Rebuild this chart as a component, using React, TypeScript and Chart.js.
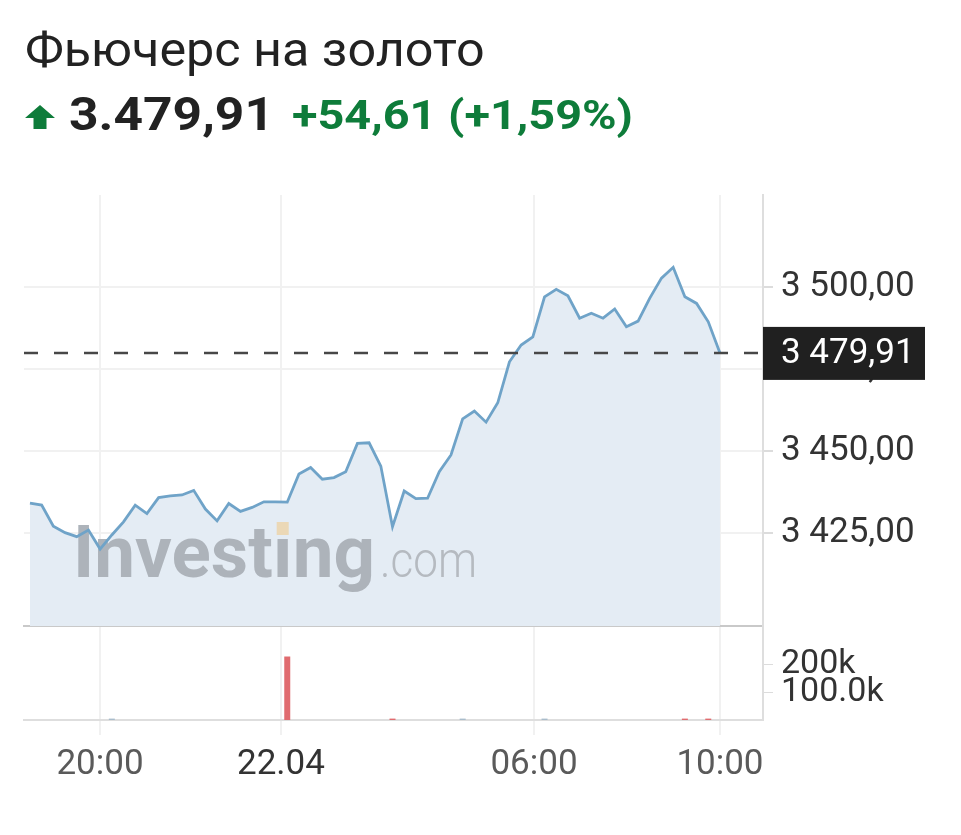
import React, { useEffect, useRef } from "react";
import { Chart, registerables } from "chart.js";

Chart.register(...registerables);

// ---------- data ----------
const title = "Фьючерс на золото";
const priceText = "3.479,91";
const changeText = "+54,61 (+1,59%)";

const priceValues = [
  3434.1, 3433.5, 3427.1, 3425.1, 3423.9, 3425.9, 3420.1, 3424.4, 3428.4, 3433.5,
  3430.9, 3435.8, 3436.3, 3436.6, 3438.0, 3432.3, 3428.7, 3434.0, 3431.6, 3432.8,
  3434.5, 3434.5, 3434.4, 3443.0, 3445.0, 3441.4, 3441.9, 3443.7, 3452.3, 3452.5,
  3445.4, 3426.9, 3437.8, 3435.5, 3435.6, 3443.7, 3448.8, 3459.8, 3462.2, 3458.8,
  3464.7, 3477.2, 3482.3, 3484.8, 3497.0, 3499.3, 3497.3, 3490.5, 3492.0, 3490.5,
  3493.3, 3487.9, 3489.6, 3496.6, 3502.7, 3506.0, 3497.0, 3495.0, 3489.4, 3479.91,
];

const volumeValues = [
  0, 0, 0, 0, 0, 0, 0, 5000, 0, 0,
  0, 0, 0, 0, 0, 0, 0, 0, 0, 0,
  0, 0, 228000, 0, 0, 0, 0, 0, 0, 0,
  0, 5000, 0, 0, 0, 0, 0, 5000, 0, 0,
  0, 0, 0, 0, 5000, 0, 0, 0, 0, 0,
  0, 0, 0, 0, 0, 0, 5000, 0, 5000, 0,
];

const lastPrice = 3479.91;

const xTickPositions = [5.99, 21.46, 43.1, 59];
const xTickLabels = ["20:00", "22.04", "06:00", "10:00"];
const priceTicks = [3425, 3450, 3475, 3500];
const volumeTicks = [100000, 200000];
const volumeTickLabels = ["100.0k", "200k"];

// axis ranges
const X_MIN = -0.51;
const X_MAX = 62.68;
const PRICE_MIN = 3396.65;
const PRICE_MAX = 3528.05;
const VOL_MAX = 334000;

// ---------- helpers ----------
function formatPrice(v: number): string {
  const [i, d] = v.toFixed(2).split(".");
  return i.replace(/\B(?=(\d{3})+(?!\d))/g, " ") + "," + d;
}

const FONT = "Roboto";
const GRID = "#f1f1f1";
const AXIS = "#dedede";

const watermarkPlugin = {
  id: "watermark",
  afterDatasetDraw(chart: any, args: any) {
    if (args.index !== 1) return;
    const ctx = chart.ctx;
    ctx.save();
    ctx.font = `bold 73px ${FONT}`;
    ctx.textBaseline = "alphabetic";
    const p1 = "Invest";
    const p2 = "\u0131";
    const p3 = "ng";
    const full = p1 + p2 + p3;
    const w = ctx.measureText(full).width;
    const sx = 302 / w;
    ctx.translate(73, 577);
    ctx.scale(sx, 1);
    ctx.fillStyle = "#adb3ba";
    ctx.fillText(full, 0, 0);
    const w1 = ctx.measureText(p1).width;
    const w2 = ctx.measureText(p2).width;
    ctx.fillStyle = "rgba(240, 204, 140, 0.6)";
    const cx = w1 + w2 / 2;
    ctx.fillRect(cx - 6 / sx, -55, 12 / sx, 13);
    ctx.restore();

    ctx.save();
    ctx.font = `300 50px ${FONT}`;
    const wc = ctx.measureText(".com").width;
    ctx.translate(380, 577);
    ctx.scale(97 / wc, 1);
    ctx.fillStyle = "#b5bac0";
    ctx.fillText(".com", 0, 0);
    ctx.restore();
  },
};

const lastPricePlugin = {
  id: "lastPrice",
  afterDatasetsDraw(chart: any) {
    const ctx = chart.ctx;
    const y = chart.scales.y.getPixelForValue(lastPrice);
    const { left, right } = chart.chartArea;
    ctx.save();
    ctx.strokeStyle = "#474747";
    ctx.lineWidth = 2.5;
    ctx.setLineDash([14, 16]);
    ctx.beginPath();
    ctx.moveTo(left, y);
    ctx.lineTo(right, y);
    ctx.stroke();
    ctx.restore();
  },
  afterDraw(chart: any) {
    const ctx = chart.ctx;
    const y = chart.scales.y.getPixelForValue(lastPrice);
    const right = chart.chartArea.right;
    ctx.save();
    ctx.fillStyle = "#202020";
    ctx.fillRect(right, y - 26, 162, 53);
    ctx.fillStyle = "#ffffff";
    ctx.font = `35px ${FONT}`;
    ctx.textBaseline = "middle";
    ctx.textAlign = "left";
    ctx.fillText(formatPrice(lastPrice), right + 18, y + 1.5);
    ctx.restore();
  },
};

const clipLabelPlugin = {
  id: "clipLabel",
  afterDraw(chart: any) {
    const ctx = chart.ctx;
    const right = chart.chartArea.right;
    ctx.clearRect(right + 1, chart.chartArea.bottom + 20, 200, 80);
  },
};

export default function App() {
  const priceRef = useRef<HTMLCanvasElement | null>(null);
  const volRef = useRef<HTMLCanvasElement | null>(null);

  useEffect(() => {
    const pts = priceValues.map((v, i) => ({ x: i, y: v }));
    const priceChart = new Chart(priceRef.current as HTMLCanvasElement, {
      type: "line",
      data: {
        datasets: [
          {
            data: pts,
            borderColor: "#6fa3c8",
            borderWidth: 2.8,
            pointRadius: 0,
            fill: false,
            tension: 0,
          },
          {
            data: pts,
            borderWidth: 0,
            borderColor: "rgba(0,0,0,0)",
            backgroundColor: "#e4ecf4",
            pointRadius: 0,
            fill: "start",
            tension: 0,
          },
        ],
      },
      options: {
        animation: false,
        responsive: false,
        maintainAspectRatio: false,
        events: [],
        layout: { padding: { top: 195, left: 24, right: 0, bottom: 0 } },
        plugins: { legend: { display: false }, tooltip: { enabled: false } },
        scales: {
          x: {
            type: "linear",
            min: X_MIN,
            max: X_MAX,
            afterBuildTicks: (a: any) => {
              a.ticks = xTickPositions.map((v) => ({ value: v }));
            },
            afterFit: (a: any) => {
              a.height = 34;
            },
            ticks: { display: false },
            grid: { color: GRID, lineWidth: 2, drawTicks: false },
            border: { display: true, color: "#c9c9c9", width: 2 },
          },
          y: {
            position: "right",
            min: PRICE_MIN,
            max: PRICE_MAX,
            afterBuildTicks: (a: any) => {
              a.ticks = priceTicks.map((v) => ({ value: v }));
            },
            afterFit: (a: any) => {
              a.width = 198;
            },
            ticks: {
              autoSkip: false,
              callback: (v: any) => formatPrice(Number(v)),
              font: { family: FONT, size: 35 },
              color: "#333333",
              padding: 8,
            },
            grid: { color: GRID, lineWidth: 2, tickLength: 10, tickColor: "#dcdcdc" },
            border: { color: AXIS, width: 2 },
          },
        },
      } as any,
      plugins: [watermarkPlugin, lastPricePlugin],
    });

    const volColors = volumeValues.map((_, i) =>
      i > 0 && priceValues[i] < priceValues[i - 1] ? "#e06b6f" : "#a9bccb"
    );
    const volChart = new Chart(volRef.current as HTMLCanvasElement, {
      type: "bar",
      data: {
        datasets: [
          {
            data: volumeValues.map((v, i) => ({ x: i, y: v > 0 ? v : null })),
            backgroundColor: volColors,
            barThickness: 6,
            borderWidth: 0,
            inflateAmount: 0,
          },
        ],
      },
      options: {
        animation: false,
        responsive: false,
        maintainAspectRatio: false,
        events: [],
        layout: { padding: { top: 627, left: 24, right: 0, bottom: 0 } },
        plugins: { legend: { display: false }, tooltip: { enabled: false } },
        scales: {
          x: {
            type: "linear",
            min: X_MIN,
            max: X_MAX,
            offset: false,
            afterBuildTicks: (a: any) => {
              a.ticks = xTickPositions.map((v) => ({ value: v }));
            },
            afterFit: (a: any) => {
              a.height = 115;
            },
            ticks: {
              autoSkip: false,
              maxRotation: 0,
              font: { family: FONT, size: 35 },
              color: (c: any) => (c.index === 1 ? "#333333" : "#5a5a5a"),
              padding: 9,
              callback: (_v: any, i: number) => xTickLabels[i],
            },
            grid: { color: GRID, lineWidth: 2, tickLength: 15, offset: false },
            border: { color: AXIS, width: 2 },
          },
          y: {
            position: "right",
            min: 0,
            max: VOL_MAX,
            afterBuildTicks: (a: any) => {
              a.ticks = volumeTicks.map((v) => ({ value: v }));
            },
            afterFit: (a: any) => {
              a.width = 198;
            },
            ticks: {
              autoSkip: false,
              callback: (_v: any, i: number) => volumeTickLabels[i],
              font: { family: FONT, size: 34 },
              color: "#333333",
              padding: 8,
            },
            grid: { drawOnChartArea: false, tickLength: 10, tickColor: "#dcdcdc" },
            border: { color: AXIS, width: 2 },
          },
        },
      } as any,
      plugins: [clipLabelPlugin],
    });

    return () => {
      priceChart.destroy();
      volChart.destroy();
    };
  }, []);

  return (
    <div style={{ position: "absolute", left: 0, top: 0, width: 961, height: 835, background: "#fff", fontFamily: FONT }}>
      <canvas ref={priceRef} width={961} height={660} style={{ position: "absolute", left: 0, top: 0 }} />
      <canvas ref={volRef} width={961} height={835} style={{ position: "absolute", left: 0, top: 0 }} />
      <div
        style={{
          position: "absolute",
          left: 25,
          top: 26,
          fontSize: 48,
          lineHeight: "48px",
          color: "#222222",
          whiteSpace: "nowrap",
          transformOrigin: "left center",
          transform: "scaleX(1.047)",
        }}
      >
        {title}
      </div>
      <svg style={{ position: "absolute", left: 25, top: 105 }} width={30} height={24} viewBox="0 0 30 24">
        <polygon points="15,0 30,13 21.5,13 21.5,24 8.5,24 8.5,13 0,13" fill="#0e7c3a" />
      </svg>
      <div
        style={{
          position: "absolute",
          left: 69,
          top: 91,
          fontSize: 46,
          lineHeight: "46px",
          fontWeight: 700,
          color: "#222222",
          whiteSpace: "nowrap",
          transformOrigin: "left center",
          transform: "scaleX(1.12)",
        }}
      >
        {priceText}
      </div>
      <div
        style={{
          position: "absolute",
          left: 292,
          top: 96,
          fontSize: 40,
          lineHeight: "40px",
          fontWeight: 700,
          color: "#0e7c3a",
          whiteSpace: "nowrap",
          transformOrigin: "left center",
          transform: "scaleX(1.17)",
        }}
      >
        {changeText}
      </div>
    </div>
  );
}
